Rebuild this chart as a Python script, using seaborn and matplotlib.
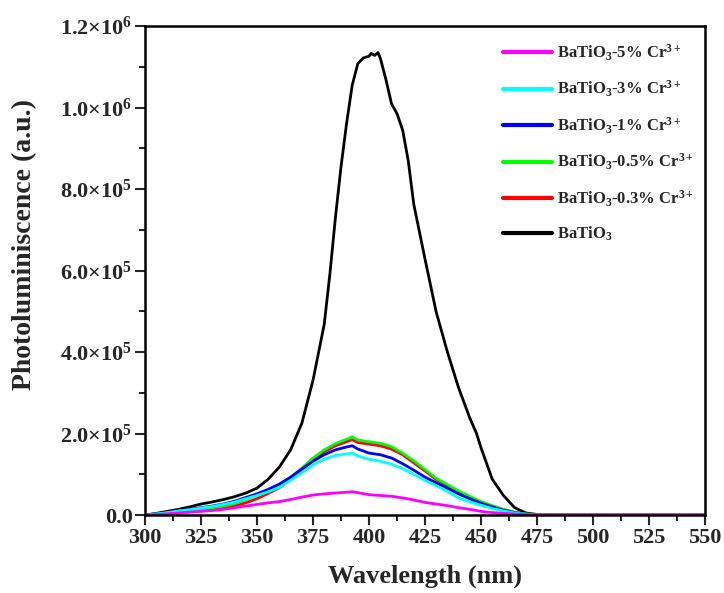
import numpy as np
import pandas as pd
import matplotlib
matplotlib.use("Agg")
import matplotlib.pyplot as plt
import seaborn as sns
from matplotlib.ticker import MultipleLocator, FixedLocator, FixedFormatter

# ---------------- data ----------------
wl_black = [300, 305, 310, 315, 320, 325, 330, 335, 340, 345, 350, 355, 360, 365, 370,
            375, 380, 382.5, 385, 387.5, 390, 392.5, 395, 397.5, 400, 401, 402.5, 404,
            405, 407.5, 410, 412.5, 415, 417.5, 420, 425, 430, 435, 440, 445, 448, 450,
            455, 460, 465, 470, 475, 480, 500, 525, 550]
batio3 = [0, 4e3, 9e3, 14e3, 20e3, 27e3, 32e3, 38e3, 45e3, 54e3, 66e3, 88e3, 118e3, 160e3, 225e3,
          331e3, 468e3, 590e3, 730e3, 855e3, 962e3, 1.055e6, 1.108e6, 1.122e6, 1.126e6, 1.133e6, 1.128e6, 1.135e6,
          1.122e6, 1.07e6, 1.01e6, 985e3, 945e3, 870e3, 762e3, 628e3, 498e3, 400e3, 312e3, 238e3, 200e3, 165e3,
          88e3, 48e3, 18e3, 5e3, 1.5e3, 500, 0, 0, 0]

wl = [300, 305, 310, 315, 320, 325, 330, 335, 340, 345, 350, 355, 360, 365, 370, 375,
      380, 385, 390, 392.5, 395, 400, 405, 410, 415, 420, 425, 430, 435, 440, 445, 450,
      455, 460, 465, 470, 475, 500, 525, 550]
cr_05 = [0, 2e3, 5e3, 8e3, 11e3, 14e3, 18e3, 22e3, 28e3, 38e3, 48e3, 60e3, 74e3, 92e3, 115e3, 140e3,
         160e3, 175e3, 186e3, 192e3, 184e3, 180e3, 176e3, 168e3, 152e3, 133e3, 112e3, 90e3, 75e3, 59e3, 46e3, 33e3,
         23e3, 14e3, 7e3, 2.5e3, 1e3, 0, 0, 0]
cr_03 = [0, 1.5e3, 3.5e3, 6e3, 8e3, 11e3, 14e3, 17e3, 22e3, 30e3, 40e3, 53e3, 67e3, 87e3, 110e3, 135e3,
         155e3, 170e3, 180e3, 185e3, 178e3, 174e3, 170e3, 162e3, 148e3, 128e3, 108e3, 87e3, 72e3, 57e3, 44e3, 31e3,
         21e3, 13e3, 6e3, 2e3, 0.8e3, 0, 0, 0]
cr_1 = [0, 2.5e3, 6e3, 10e3, 14e3, 18e3, 22e3, 27e3, 34e3, 43e3, 52e3, 63e3, 76e3, 93e3, 113e3, 132e3,
        148e3, 160e3, 167e3, 170e3, 162e3, 152e3, 148e3, 140e3, 126e3, 110e3, 93e3, 79e3, 66e3, 52e3, 40e3, 29e3,
        20e3, 12e3, 6e3, 2e3, 0.8e3, 0, 0, 0]
cr_3 = [0, 2.5e3, 6e3, 10e3, 13e3, 17e3, 21e3, 26e3, 32e3, 40e3, 48e3, 57e3, 68e3, 85e3, 104e3, 123e3,
        137e3, 146e3, 150e3, 152e3, 145e3, 137e3, 132e3, 125e3, 114e3, 100e3, 85e3, 72e3, 58e3, 42e3, 32e3, 24e3,
        16e3, 10e3, 5e3, 2e3, 0.8e3, 0, 0, 0]
cr_5 = [0, 1e3, 3e3, 5e3, 7e3, 9e3, 11e3, 14e3, 18e3, 22e3, 26e3, 30e3, 33e3, 38e3, 44e3, 49e3,
        52e3, 54e3, 56e3, 57e3, 55e3, 50e3, 48e3, 46e3, 42e3, 37e3, 31e3, 27e3, 23e3, 18e3, 14e3, 9e3,
        6e3, 4e3, 2.5e3, 1.5e3, 1e3, 0, 0, 0]

labels = ['BaTiO$_3$-5% Cr$^{3+}$', 'BaTiO$_3$-3% Cr$^{3+}$', 'BaTiO$_3$-1% Cr$^{3+}$',
          'BaTiO$_3$-0.5% Cr$^{3+}$', 'BaTiO$_3$-0.3% Cr$^{3+}$', 'BaTiO$_3$']
colors = ['#ff00ff', '#00ffff', '#0000ff', '#00ff00', '#ff0000', '#000000']

x_ticks = [300, 325, 350, 375, 400, 425, 450, 475, 500, 525, 550]
y_ticks = [0, 2e5, 4e5, 6e5, 8e5, 1e6, 1.2e6]
y_ticklabels = ['0.0', r'2.0×10$^{5}$', r'4.0×10$^{5}$', r'6.0×10$^{5}$',
                r'8.0×10$^{5}$', r'1.0×10$^{6}$', r'1.2×10$^{6}$']

# ---------------- style ----------------
sns.set_theme(style="ticks")
plt.rcParams['font.family'] = ['Liberation Serif', 'DejaVu Serif']
plt.rcParams['font.weight'] = 'bold'
plt.rcParams['mathtext.fontset'] = 'custom'
plt.rcParams['mathtext.rm'] = 'Liberation Serif:bold'
plt.rcParams['mathtext.bf'] = 'Liberation Serif:bold'
plt.rcParams['mathtext.it'] = 'Liberation Serif:bold'
plt.rcParams['mathtext.default'] = 'rm'

fig = plt.figure(figsize=(7.24, 5.93), dpi=100)
ax = fig.add_axes([0.2003, 0.1315, 0.7735, 0.8245])

series = [(wl_black, batio3), (wl, cr_03), (wl, cr_05), (wl, cr_1), (wl, cr_3), (wl, cr_5)]
idx_order = [5, 4, 3, 2, 1, 0]
for (xs, ys), i in zip(series, idx_order):
    sns.lineplot(x=xs, y=ys, ax=ax, color=colors[i], linewidth=2.0, label=labels[i], sort=False)

h, l = ax.get_legend_handles_labels()
lab2h = dict(zip(l, h))
leg = ax.legend([lab2h[t] for t in labels], labels, loc='upper left',
                bbox_to_anchor=(0.639, 0.966), frameon=False, fontsize=12,
                handlelength=2.95, handletextpad=0.3, labelspacing=0.97, borderpad=0,
                borderaxespad=0)
for line in leg.get_lines():
    line.set_linewidth(3.0)

ax.set_xlim(300, 550)
ax.set_ylim(0, 1.2e6)
ax.xaxis.set_major_locator(FixedLocator(x_ticks))
ax.xaxis.set_minor_locator(MultipleLocator(12.5))
ax.yaxis.set_major_locator(FixedLocator(y_ticks))
ax.yaxis.set_major_formatter(FixedFormatter(y_ticklabels))
ax.yaxis.set_minor_locator(MultipleLocator(1e5))
ax.tick_params(axis='both', which='major', direction='out', length=7, width=1.5,
               labelsize=16, top=False, right=False, pad=2)
ax.tick_params(axis='both', which='minor', direction='out', length=4, width=1.5,
               top=False, right=False)
for lab in ax.get_xticklabels() + ax.get_yticklabels():
    lab.set_fontweight('bold')
for sp in ax.spines.values():
    sp.set_linewidth(1.8)
    sp.set_color('black')

ax.set_xlabel('Wavelength (nm)', fontsize=19, fontweight='bold', labelpad=12)
ax.set_ylabel('Photoluminiscence (a.u.)', fontsize=20, fontweight='bold')
ax.yaxis.set_label_coords(-0.192, 0.554)

fig.savefig('out.png', dpi=100)
